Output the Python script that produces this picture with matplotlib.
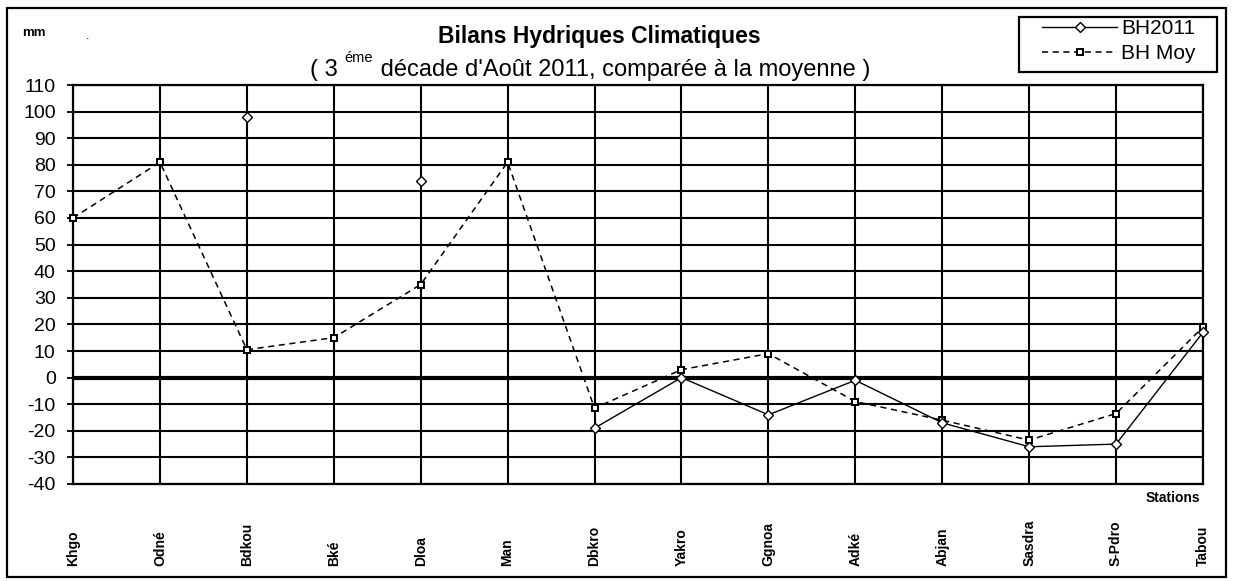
import numpy as np
import matplotlib
matplotlib.use("Agg")
import matplotlib.pyplot as plt
import matplotlib.transforms as mtransforms
from matplotlib.patches import Rectangle

plt.rcParams['font.family'] = ['Liberation Sans', 'DejaVu Sans']

# Stations and values (mm)
stations = ['Khgo', 'Odné', 'Bdkou', 'Bké', 'Dloa', 'Man', 'Dbkro', 'Yakro',
            'Ggnoa', 'Adké', 'Abjan', 'Sasdra', 'S-Pdro', 'Tabou']
bh2011 = [np.nan, np.nan, 98, np.nan, 74, np.nan, -19, 0,
          -14, -1, -17, -26, -25, 17]
bh_moy = [60, 81, 10.5, 15, 35, 81, -11.5, 3,
          9, -9, -16, -23.5, -13.5, 19]
yticks = list(range(-40, 111, 10))

W, H = 1233, 581
fig = plt.figure(figsize=(W / 100, H / 100), dpi=100)
fig.patch.set_facecolor('white')

# plot area in pixels
left, right, top, bottom = 73, 1203, 85, 484
ax = fig.add_axes([left / W, 1 - bottom / H, (right - left) / W, (bottom - top) / H])

x = np.arange(len(stations))
ax.set_xlim(0, len(stations) - 1)
ax.set_ylim(-40, 110)

ax.set_yticks(yticks)
ax.set_yticklabels([str(t) for t in yticks], fontsize=14)
ax.set_xticks(x)
ax.set_xticklabels([])
ax.tick_params(axis='y', direction='out', length=4.5, width=1.3, pad=8)
ax.tick_params(axis='x', length=0)
ax.grid(True, color='black', linewidth=1.5)
for s in ax.spines.values():
    s.set_linewidth(1.6)
ax.axhline(0, color='black', linewidth=3, zorder=2)

ax.plot(x, bh2011, color='black', linewidth=1, marker='D', markersize=5,
        markerfacecolor='white', markeredgecolor='black', markeredgewidth=1,
        label='BH2011', zorder=4, clip_on=False)
ax.plot(x, bh_moy, color='black', linewidth=1.1, linestyle=(0, (4, 3)), marker='s',
        markersize=5, markerfacecolor='white', markeredgecolor='black',
        markeredgewidth=1.4, label='BH Moy', zorder=3, clip_on=False)

# station labels, rotated, bottom aligned
lab_tr = mtransforms.blended_transform_factory(ax.transData, fig.transFigure)
for xi, name in zip(x, stations):
    ax.text(xi, 1 - 566 / H, name, transform=lab_tr, rotation=90,
            ha='center', va='bottom', fontsize=10, fontweight='bold')

fig.text(1200 / W, 1 - 498 / H, 'Stations', ha='right', va='center',
         fontsize=10, fontweight='bold')
fig.text(22 / W, 1 - 33 / H, 'mm', ha='left', va='center', fontsize=9.5, fontweight='bold')
fig.text(88 / W, 1 - 36 / H, '.', ha='center', va='center', fontsize=9)

fig.text(599 / W, 1 - 36 / H, 'Bilans Hydriques Climatiques', ha='center', va='center',
         fontsize=16.5, fontweight='bold')

# subtitle with superscript, pieces chained one after another
t1 = fig.text(310 / W, 1 - 70 / H, "( 3 ", ha='left', va='center', fontsize=17)
fig.canvas.draw()
t2 = ax.annotate("éme", xy=(1, 0.72), xycoords=t1, ha='left', va='bottom',
                 fontsize=10.5, annotation_clip=False)
w2 = t2.get_window_extent(fig.canvas.get_renderer()).width
t3 = ax.annotate(" décade d'Août 2011, comparée à la moyenne )", xy=(1, 0),
                 xycoords=t1, xytext=(w2 + 1, 0), textcoords='offset pixels',
                 ha='left', va='bottom', fontsize=17, annotation_clip=False)

# legend: drawn without frame, box added separately
leg = fig.legend(loc='upper left', bbox_to_anchor=(1042 / W, 1 - 19 / H),
                 fontsize=15, frameon=False, handlelength=3.6, borderpad=0,
                 labelspacing=0.3, handletextpad=0.2, borderaxespad=0)
fig.patches.append(Rectangle((1019 / W, 1 - 72 / H), (1217 - 1019) / W, (72 - 17) / H,
                             transform=fig.transFigure, fill=False,
                             edgecolor='black', linewidth=1.6))

fig.patches.append(Rectangle((7 / W, 1 - 577 / H), (1226 - 7) / W, (577 - 8) / H,
                             transform=fig.transFigure, fill=False,
                             edgecolor='black', linewidth=1.6))

fig.savefig('out.png', dpi=100)
